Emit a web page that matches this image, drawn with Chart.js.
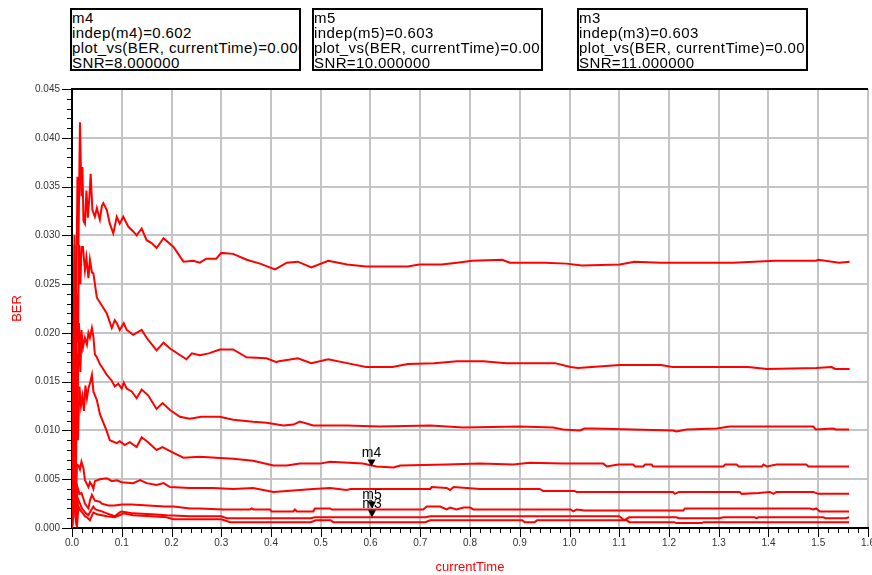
<!DOCTYPE html>
<html lang="en">
<head>
<meta charset="UTF-8"/>
<title>BER vs currentTime</title>
<script src="https://cdn.jsdelivr.net/npm/chart.js"></script>
<style>
    html, body {
        margin: 0;
        padding: 0;
        background: #fff;
        width: 872px;
        height: 575px;
        overflow: hidden;
        font-family: 'Liberation Sans', Arial, sans-serif;
    }
    .wrap { position: relative; width: 872px; height: 575px; }
    canvas#berChart { position: absolute; left: 0; top: 0; }
    .marker-box {
        position: absolute;
        top: 8px;
        height: 63px;
        width: 231px;
        border: 2px solid #000;
        box-sizing: border-box;
        overflow: hidden;
        white-space: nowrap;
        font-size: 15px;
        line-height: 15px;
        letter-spacing: 0.4px;
        color: #000;
        background: #fff;
    }
</style>
</head>
<body>
<div class="wrap">
    <canvas id="berChart" width="872" height="575"></canvas>
    <div class="marker-box" style="left:70px">m4<br>indep(m4)=0.602<br>plot_vs(BER, currentTime)=0.006<br>SNR=8.000000</div>
    <div class="marker-box" style="left:312px">m5<br>indep(m5)=0.603<br>plot_vs(BER, currentTime)=0.002<br>SNR=10.000000</div>
    <div class="marker-box" style="left:577px">m3<br>indep(m3)=0.603<br>plot_vs(BER, currentTime)=0.001<br>SNR=11.000000</div>
</div>

<script>
    // [currentTime, BER] pairs, one list per SNR sweep
    const berSnr5 = [[0,0],[0.003,0.018],[0.005,0.029],[0.007,0.011],[0.009,0.026],[0.011,0.036],[0.013,0.029],[0.016,0.0416],[0.019,0.034],[0.021,0.037],[0.023,0.0315],[0.026,0.0312],[0.029,0.0346],[0.032,0.0318],[0.035,0.034],[0.0375,0.0363],[0.041,0.0326],[0.046,0.0319],[0.050,0.0328],[0.056,0.0316],[0.060,0.0330],[0.063,0.0333],[0.070,0.0326],[0.076,0.0312],[0.083,0.0302],[0.090,0.0319],[0.096,0.0312],[0.103,0.0319],[0.113,0.0309],[0.123,0.0304],[0.130,0.0300],[0.140,0.0307],[0.150,0.0295],[0.160,0.0292],[0.170,0.0287],[0.184,0.0297],[0.204,0.0288],[0.224,0.0273],[0.244,0.0274],[0.257,0.0272],[0.270,0.0276],[0.290,0.0276],[0.300,0.0282],[0.324,0.0281],[0.351,0.0275],[0.378,0.0271],[0.408,0.0265],[0.432,0.0272],[0.454,0.0273],[0.481,0.0267],[0.515,0.0274],[0.553,0.0270],[0.591,0.0268],[0.675,0.0268],[0.698,0.0270],[0.743,0.0270],[0.774,0.0272],[0.804,0.0274],[0.865,0.0275],[0.880,0.0272],[0.949,0.0272],[0.994,0.0271],[1.025,0.0269],[1.101,0.0270],[1.131,0.0273],[1.184,0.0272],[1.329,0.0272],[1.413,0.0274],[1.496,0.0274],[1.500,0.0275],[1.542,0.0272],[1.563,0.0273]];
    const berSnr6 = [[0,0],[0.003,0.012],[0.005,0.030],[0.007,0.008],[0.010,0.024],[0.012,0.019],[0.014,0.029],[0.017,0.025],[0.019,0.0288],[0.022,0.0288],[0.026,0.0264],[0.029,0.0277],[0.033,0.0256],[0.036,0.0275],[0.040,0.0262],[0.043,0.0261],[0.050,0.0236],[0.060,0.0228],[0.070,0.0220],[0.080,0.0205],[0.086,0.0213],[0.090,0.0210],[0.096,0.0203],[0.104,0.0210],[0.110,0.0203],[0.123,0.0198],[0.140,0.0203],[0.150,0.0195],[0.170,0.0182],[0.184,0.0190],[0.197,0.0184],[0.230,0.0173],[0.241,0.0179],[0.257,0.0177],[0.275,0.0179],[0.297,0.0183],[0.324,0.0183],[0.351,0.0175],[0.391,0.0174],[0.411,0.0170],[0.416,0.0171],[0.454,0.0174],[0.481,0.0169],[0.515,0.0173],[0.553,0.0169],[0.591,0.0165],[0.644,0.0165],[0.675,0.0168],[0.728,0.0169],[0.774,0.0171],[0.827,0.0171],[0.873,0.0169],[0.971,0.0169],[1.002,0.0165],[1.017,0.0164],[1.101,0.0167],[1.184,0.0167],[1.207,0.0165],[1.359,0.0165],[1.397,0.0163],[1.496,0.0164],[1.527,0.0165],[1.534,0.0163],[1.563,0.0163]];
    const berSnr7 = [[0,0],[0.004,0.022],[0.006,0.005],[0.009,0.018],[0.011,0.012],[0.014,0.021],[0.017,0.016],[0.019,0.0203],[0.022,0.0185],[0.026,0.0195],[0.030,0.0188],[0.033,0.0200],[0.036,0.0195],[0.040,0.0205],[0.043,0.0196],[0.046,0.0178],[0.050,0.0175],[0.056,0.0168],[0.060,0.0165],[0.070,0.0157],[0.080,0.0151],[0.086,0.0145],[0.093,0.0148],[0.100,0.0143],[0.104,0.0149],[0.110,0.0143],[0.120,0.0140],[0.130,0.0133],[0.140,0.0142],[0.153,0.0136],[0.170,0.0122],[0.182,0.0128],[0.197,0.0121],[0.217,0.0114],[0.237,0.0112],[0.260,0.0114],[0.297,0.0114],[0.324,0.0111],[0.364,0.0109],[0.391,0.0108],[0.425,0.0105],[0.445,0.0106],[0.458,0.0109],[0.485,0.0105],[0.552,0.0105],[0.619,0.0104],[0.720,0.0105],[0.787,0.0103],[0.900,0.0104],[0.967,0.0103],[0.987,0.0101],[1.021,0.0100],[1.030,0.0102],[1.048,0.0102],[1.208,0.0100],[1.215,0.0099],[1.235,0.0101],[1.296,0.0102],[1.322,0.0104],[1.490,0.0104],[1.495,0.0101],[1.530,0.0102],[1.535,0.0101],[1.562,0.0101]];
    const berSnr8 = [[0,0],[0.005,0.015],[0.007,0.003],[0.010,0.013],[0.012,0.009],[0.015,0.0145],[0.018,0.0125],[0.021,0.0135],[0.024,0.0120],[0.027,0.0146],[0.030,0.0133],[0.033,0.0143],[0.036,0.0148],[0.040,0.0157],[0.043,0.0140],[0.050,0.0131],[0.056,0.0117],[0.063,0.0108],[0.070,0.0099],[0.076,0.0090],[0.090,0.0087],[0.096,0.0089],[0.106,0.0085],[0.116,0.0088],[0.130,0.0083],[0.140,0.0093],[0.153,0.0088],[0.170,0.0080],[0.182,0.0083],[0.204,0.0077],[0.224,0.0072],[0.257,0.0073],[0.290,0.0072],[0.324,0.0071],[0.364,0.0069],[0.405,0.0064],[0.432,0.0064],[0.458,0.0066],[0.498,0.0066],[0.519,0.0068],[0.585,0.0066],[0.612,0.0063],[0.646,0.0062],[0.660,0.0064],[0.753,0.0065],[0.820,0.0066],[0.887,0.0065],[0.920,0.0067],[0.987,0.0066],[1.068,0.0066],[1.075,0.0063],[1.098,0.0065],[1.128,0.0065],[1.132,0.0063],[1.148,0.0063],[1.152,0.0065],[1.165,0.0065],[1.168,0.0063],[1.309,0.0063],[1.313,0.0065],[1.336,0.0065],[1.340,0.0063],[1.387,0.0063],[1.390,0.0065],[1.397,0.0063],[1.416,0.0065],[1.476,0.0065],[1.480,0.0063],[1.562,0.0063]];
    const berSnr9 = [[0,0],[0.004,0.009],[0.007,0.001],[0.010,0.0065],[0.013,0.0064],[0.016,0.0060],[0.019,0.0068],[0.023,0.0061],[0.026,0.0049],[0.030,0.0045],[0.033,0.0042],[0.036,0.0047],[0.040,0.0044],[0.043,0.0040],[0.046,0.0048],[0.056,0.0050],[0.070,0.0051],[0.080,0.0048],[0.090,0.0049],[0.100,0.0047],[0.123,0.0046],[0.137,0.0049],[0.150,0.0046],[0.170,0.0044],[0.184,0.0046],[0.197,0.0042],[0.237,0.0041],[0.284,0.0041],[0.324,0.0040],[0.364,0.0041],[0.405,0.0037],[0.432,0.0038],[0.458,0.0039],[0.485,0.0040],[0.519,0.0041],[0.552,0.0039],[0.560,0.0040],[0.720,0.0040],[0.723,0.0042],[0.753,0.0041],[0.760,0.0039],[0.767,0.0042],[0.820,0.0040],[0.940,0.0040],[0.947,0.0038],[1.010,0.0038],[1.014,0.0037],[1.208,0.0037],[1.212,0.0035],[1.220,0.0037],[1.342,0.0037],[1.346,0.0035],[1.380,0.0036],[1.403,0.0037],[1.410,0.0035],[1.416,0.0037],[1.490,0.0037],[1.500,0.0035],[1.562,0.0035]];
    const berSnr10 = [[0,0],[0.005,0.006],[0.008,0.0005],[0.011,0.0042],[0.015,0.0035],[0.019,0.0036],[0.023,0.0030],[0.026,0.0025],[0.030,0.0022],[0.033,0.0020],[0.036,0.0028],[0.040,0.0034],[0.043,0.0031],[0.046,0.0028],[0.056,0.0027],[0.060,0.0025],[0.073,0.0023],[0.086,0.0023],[0.100,0.0024],[0.120,0.0024],[0.153,0.0023],[0.187,0.0022],[0.204,0.0022],[0.237,0.0020],[0.257,0.0020],[0.304,0.0019],[0.358,0.0019],[0.361,0.0020],[0.365,0.0019],[0.398,0.0019],[0.401,0.0017],[0.445,0.0017],[0.448,0.0019],[0.452,0.0017],[0.485,0.0017],[0.488,0.0020],[0.519,0.0020],[0.522,0.0019],[0.706,0.0019],[0.713,0.0022],[0.740,0.0022],[0.753,0.0019],[0.760,0.0021],[0.773,0.0019],[0.787,0.0021],[0.800,0.0021],[0.807,0.0019],[1.002,0.0019],[1.008,0.0017],[1.014,0.0019],[1.030,0.0018],[1.229,0.0018],[1.232,0.0020],[1.483,0.0020],[1.490,0.0019],[1.496,0.0020],[1.503,0.0017],[1.562,0.0017]];
    const berSnr11 = [[0,0],[0.006,0.004],[0.009,0.0002],[0.012,0.0030],[0.016,0.0025],[0.020,0.0020],[0.023,0.0018],[0.028,0.0015],[0.033,0.0013],[0.038,0.0018],[0.043,0.0022],[0.047,0.0019],[0.060,0.0017],[0.070,0.0015],[0.086,0.0012],[0.096,0.0016],[0.100,0.0017],[0.123,0.0015],[0.160,0.0014],[0.190,0.0013],[0.237,0.0012],[0.300,0.0012],[0.311,0.0010],[0.480,0.0010],[0.488,0.0011],[0.710,0.0011],[0.720,0.0012],[1.100,0.0012],[1.110,0.0008],[1.120,0.0011],[1.150,0.0011],[1.215,0.0011],[1.220,0.0010],[1.300,0.0010],[1.310,0.0011],[1.372,0.0011],[1.376,0.0010],[1.380,0.0011],[1.510,0.0011],[1.515,0.0010],[1.555,0.0010],[1.562,0.0011]];
    const berSnr12 = [[0,0],[0.007,0.003],[0.010,0.0001],[0.013,0.0022],[0.017,0.0018],[0.022,0.0015],[0.026,0.0012],[0.030,0.0011],[0.036,0.0008],[0.043,0.0016],[0.050,0.0014],[0.070,0.0012],[0.086,0.0011],[0.100,0.0014],[0.103,0.0015],[0.123,0.0013],[0.160,0.0012],[0.190,0.0011],[0.204,0.0009],[0.300,0.0009],[0.318,0.0006],[0.480,0.0006],[0.490,0.0008],[0.520,0.0008],[0.525,0.0006],[0.710,0.0006],[0.720,0.0008],[0.905,0.0008],[0.910,0.0006],[0.930,0.0006],[0.935,0.0008],[1.115,0.0008],[1.120,0.0006],[1.210,0.0006],[1.215,0.0005],[1.265,0.0005],[1.270,0.0006],[1.562,0.0006]];

    const sweeps = [berSnr5, berSnr6, berSnr7, berSnr8, berSnr9, berSnr10, berSnr11, berSnr12];

    // marker readouts (m4 on SNR=8, m5 on SNR=10, m3 on SNR=11)
    const markerNames = ['m4', 'm5', 'm3'];
    const markerTime = [0.602, 0.603, 0.603];
    const markerBer = [0.0063, 0.0020, 0.0011];

    const xMax = 1.6;
    const yMax = 0.045;

    const isMajorY = v => Math.round(v * 1000) % 5 === 0;
    const isMajorX = v => Math.round(v * 50) % 5 === 0;

    // minor/major tick marks outside the plot + marker triangles and names
    const extrasPlugin = {
        id: 'extras',
        afterDraw(chart) {
            const { ctx, chartArea, scales: { x, y } } = chart;
            ctx.save();
            ctx.strokeStyle = '#000';
            ctx.lineWidth = 1;
            y.ticks.forEach(t => {
                const py = Math.round(y.getPixelForValue(t.value)) + 0.5;
                const len = isMajorY(t.value) ? 10 : 5;
                ctx.beginPath();
                ctx.moveTo(chartArea.left - len, py);
                ctx.lineTo(chartArea.left, py);
                ctx.stroke();
            });
            x.ticks.forEach(t => {
                const px = Math.round(x.getPixelForValue(t.value)) + 0.5;
                const len = isMajorX(t.value) ? 9 : 5;
                ctx.beginPath();
                ctx.moveTo(px, chartArea.bottom);
                ctx.lineTo(px, chartArea.bottom + len);
                ctx.stroke();
            });

            ctx.fillStyle = '#000';
            ctx.font = '14px "Liberation Sans", Arial, sans-serif';
            ctx.textAlign = 'center';
            ctx.textBaseline = 'bottom';
            markerNames.forEach((name, i) => {
                const px = x.getPixelForValue(markerTime[i]);
                const py = y.getPixelForValue(markerBer[i]);
                ctx.beginPath();
                ctx.moveTo(px, py);
                ctx.lineTo(px - 4, py - 7);
                ctx.lineTo(px + 4, py - 7);
                ctx.closePath();
                ctx.fill();
                ctx.fillText(name, px, py - 6);
            });
            ctx.restore();
        }
    };

    const ctx = document.getElementById('berChart').getContext('2d');

    const berChart = new Chart(ctx, {
        type: 'line',
        data: {
            datasets: sweeps.map(s => ({
                data: s.map(p => ({ x: p[0], y: p[1] })),
                borderColor: '#ff0000',
                borderWidth: 2,
                pointRadius: 0,
                tension: 0,
                fill: false
            }))
        },
        options: {
            responsive: false,
            animation: false,
            events: [],
            layout: { padding: { top: 89, right: 4, bottom: 0, left: 0 } },
            plugins: {
                legend: { display: false },
                tooltip: { enabled: false }
            },
            scales: {
                x: {
                    type: 'linear',
                    min: 0,
                    max: xMax,
                    afterFit: s => { s.height = 47; s.paddingLeft = 0; s.paddingRight = 0; },
                    border: { display: true, color: '#000', width: 2 },
                    grid: {
                        drawTicks: false,
                        color: c => isMajorX(c.tick.value) ? '#c4c4c4' : 'rgba(0,0,0,0)',
                        lineWidth: 2
                    },
                    ticks: {
                        stepSize: 0.02,
                        autoSkip: false,
                        maxRotation: 0,
                        padding: 9,
                        color: '#333',
                        font: { size: 10, family: '"Liberation Sans", Arial, sans-serif' },
                        callback: v => isMajorX(v) ? v.toFixed(1) : ''
                    },
                    title: {
                        display: true,
                        text: 'currentTime',
                        color: '#ff0000',
                        padding: { top: 0, bottom: 0 },
                        font: { size: 13, family: '"Liberation Sans", Arial, sans-serif' }
                    }
                },
                y: {
                    min: 0,
                    max: yMax,
                    afterFit: s => { s.width = 72; s.paddingTop = 0; s.paddingBottom = 0; },
                    border: { display: true, color: '#000', width: 2 },
                    grid: {
                        drawTicks: false,
                        color: c => {
                            const v = c.tick.value;
                            if (Math.abs(v - yMax) < 1e-9) return '#000';
                            return isMajorY(v) ? '#c4c4c4' : 'rgba(0,0,0,0)';
                        },
                        lineWidth: 2
                    },
                    ticks: {
                        stepSize: 0.001,
                        autoSkip: false,
                        padding: 12,
                        color: '#333',
                        font: { size: 10, family: '"Liberation Sans", Arial, sans-serif' },
                        callback: v => isMajorY(v) ? v.toFixed(3) : ''
                    },
                    title: {
                        display: true,
                        text: 'BER',
                        color: '#ff0000',
                        padding: { top: 10, bottom: 0 },
                        font: { size: 13, family: '"Liberation Sans", Arial, sans-serif' }
                    }
                }
            }
        },
        plugins: [extrasPlugin]
    });
</script>
</body>
</html>
